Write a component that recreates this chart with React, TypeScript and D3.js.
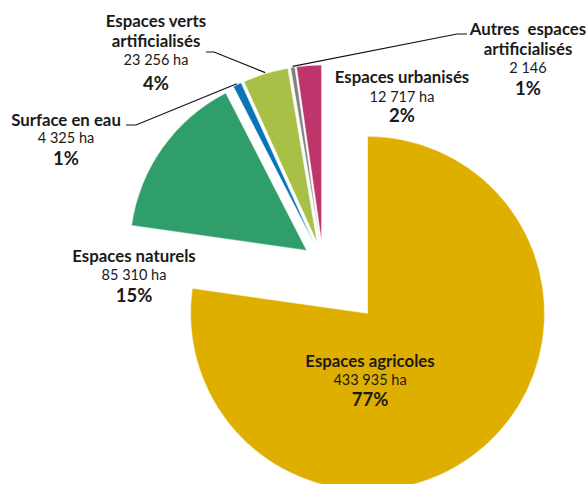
import React from "react";
import * as d3 from "d3";

const categories = [
  "Espaces agricoles",
  "Espaces naturels",
  "Surface en eau",
  "Espaces verts artificialisés",
  "Autres espaces artificialisés",
  "Espaces urbanisés",
];
const values = [433935, 85310, 4325, 23256, 2146, 12717];
const valueLabels = ["433 935 ha", "85 310 ha", "4 325 ha", "23 256 ha", "2 146", "12 717 ha"];
const percentLabels = ["77%", "15%", "1%", "4%", "1%", "2%"];
const colors = ["#DFAF00", "#2F9E6B", "#0A74B6", "#A9C046", "#808080", "#C0346C"];

const W = 587;
const H = 484;
const CX = 323;
const CY = 262;
const R = 177;
const explode = [68, 20, 20, 20, 20, 20];
const FONT = "Lato, 'Open Sans', sans-serif";

type LabelSpec = {
  x: number;
  lines: { text: string; y: number; bold: boolean; size: number }[];
  leader?: { from: [number, number]; elbow: [number, number] };
};

export default function App() {
  const data = categories.map((c, i) => ({ name: c, value: values[i], i }));
  const pie = d3
    .pie<{ name: string; value: number; i: number }>()
    .value((d) => d.value)
    .sort(null)
    .startAngle(0)
    .endAngle(2 * Math.PI);
  const arcs = pie(data);
  const arcGen = d3
    .arc<d3.PieArcDatum<{ name: string; value: number; i: number }>>()
    .innerRadius(0)
    .outerRadius(R);

  const centers = arcs.map((a, i) => {
    const m = (a.startAngle + a.endAngle) / 2;
    return [CX + explode[i] * Math.sin(m), CY - explode[i] * Math.cos(m)] as [number, number];
  });
  const edgePoint = (i: number) => {
    const a = arcs[i];
    const m = (a.startAngle + a.endAngle) / 2;
    const [cx, cy] = centers[i];
    return [cx + (R + 1) * Math.sin(m), cy - (R + 1) * Math.cos(m)] as [number, number];
  };

  const nameSize = 16.8;
  const haSize = 14.5;
  const pctSize = 18.5;

  const labels: LabelSpec[] = [
    {
      x: 370,
      lines: [
        { text: categories[0], y: 367, bold: true, size: nameSize },
        { text: valueLabels[0], y: 385, bold: false, size: haSize },
        { text: percentLabels[0], y: 406, bold: true, size: pctSize },
      ],
    },
    {
      x: 134,
      lines: [
        { text: categories[1], y: 262, bold: true, size: nameSize },
        { text: valueLabels[1], y: 280, bold: false, size: haSize },
        { text: percentLabels[1], y: 302, bold: true, size: pctSize },
      ],
    },
    {
      x: 66,
      lines: [
        { text: categories[2], y: 126, bold: true, size: nameSize },
        { text: valueLabels[2], y: 143, bold: false, size: haSize },
        { text: percentLabels[2], y: 165, bold: true, size: pctSize },
      ],
      leader: { from: [126, 125], elbow: [136, 125] },
    },
    {
      x: 156,
      lines: [
        { text: "Espaces verts", y: 27, bold: true, size: nameSize },
        { text: "artificialisés", y: 47, bold: true, size: nameSize },
        { text: valueLabels[3], y: 65, bold: false, size: haSize },
        { text: percentLabels[3], y: 90, bold: true, size: pctSize },
      ],
      leader: { from: [206, 52], elbow: [214, 52] },
    },
    {
      x: 528,
      lines: [
        { text: "Autres  espaces", y: 35, bold: true, size: nameSize },
        { text: "artificialisés", y: 55, bold: true, size: nameSize },
        { text: valueLabels[4], y: 73, bold: false, size: haSize },
        { text: percentLabels[4], y: 95, bold: true, size: pctSize },
      ],
      leader: { from: [467, 34], elbow: [457, 34] },
    },
    {
      x: 402,
      lines: [
        { text: categories[5], y: 83, bold: true, size: nameSize },
        { text: valueLabels[5], y: 102, bold: false, size: haSize },
        { text: percentLabels[5], y: 122, bold: true, size: pctSize },
      ],
    },
  ];
  const leaderTargets: Record<number, number> = { 2: 2, 3: 3, 4: 4 };

  return (
    <svg
      width={W}
      height={H}
      style={{ position: "absolute", left: 0, top: 0, background: "#fff" }}
      fontFamily={FONT}
    >
      <g>
        {arcs.map((a, i) => (
          <path
            key={i}
            d={arcGen(a) || ""}
            transform={`translate(${centers[i][0]},${centers[i][1]})`}
            fill={colors[i]}
            stroke="#fff"
            strokeWidth={0.5}
          />
        ))}
      </g>
      <g fill="none" stroke="#111" strokeWidth={1.2}>
        {labels.map((l, k) => {
          if (!l.leader) return null;
          const target = edgePoint(leaderTargets[k]);
          return (
            <polyline
              key={k}
              points={`${l.leader.from[0]},${l.leader.from[1]} ${l.leader.elbow[0]},${l.leader.elbow[1]} ${target[0]},${target[1]}`}
            />
          );
        })}
      </g>
      <g textAnchor="middle" fill="#1a1a1a">
        {labels.map((l, k) =>
          l.lines.map((ln, j) => (
            <text
              key={`${k}-${j}`}
              x={l.x}
              y={ln.y}
              fontSize={ln.size}
              fontWeight={ln.bold ? 700 : 400}
              style={{ whiteSpace: "pre" }}
            >
              {ln.text}
            </text>
          ))
        )}
      </g>
    </svg>
  );
}
